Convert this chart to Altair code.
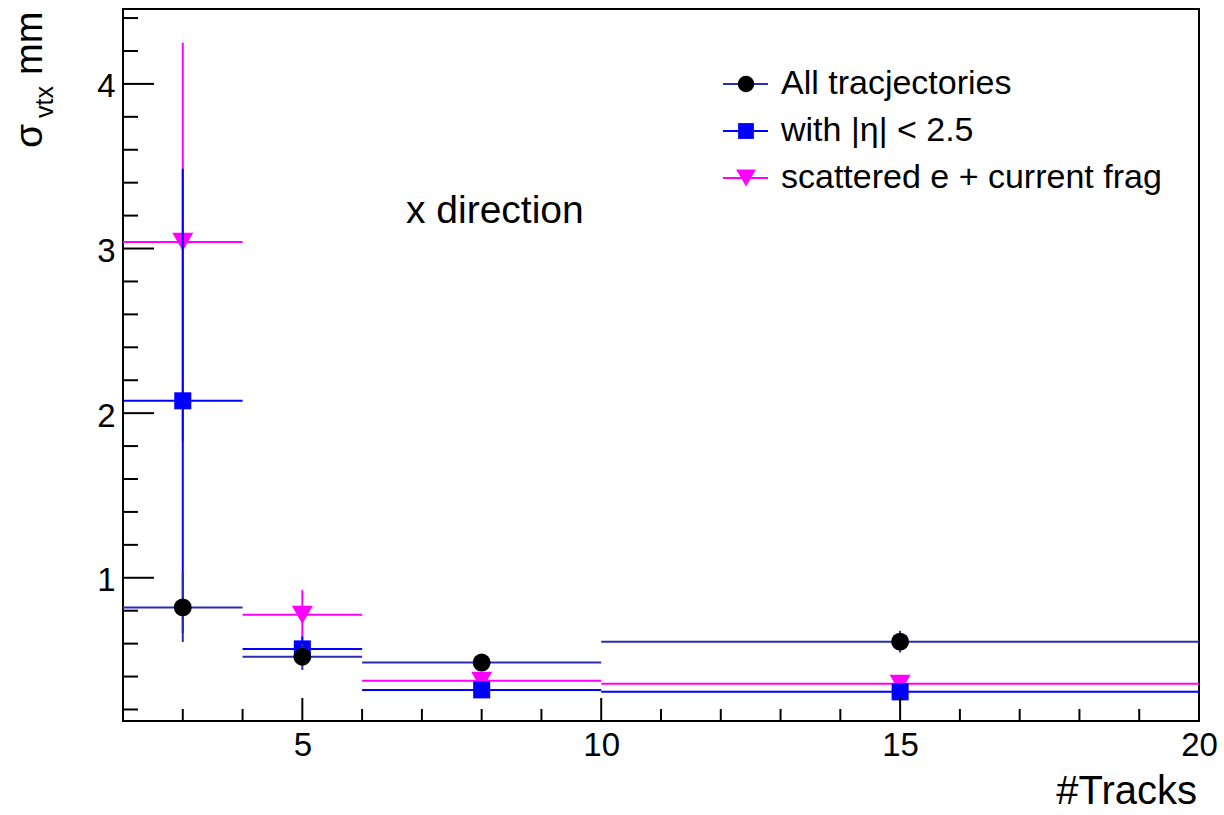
import altair as alt
import numpy as np
import pandas as pd

# Track-multiplicity bins (centre, low edge, high edge)
bin_center = [3, 5, 8, 15]
bin_low = [2, 4, 6, 10]
bin_high = [4, 6, 10, 20]

# Vertex resolution (mm) and its uncertainty per bin
all_sigma = [0.82, 0.52, 0.485, 0.612]
all_err = [0.21, 0.08, 0.02, 0.066]
eta_sigma = [2.075, 0.568, 0.319, 0.307]
eta_err = [1.41, 0.075, 0.02, 0.02]
scat_sigma = [3.04, 0.775, 0.374, 0.356]
scat_err = [1.21, 0.15, 0.02, 0.02]

series_labels = ["All tracjectories", "with |η| < 2.5", "scattered e + current frag"]

# Axis tick labels
x_labels = [5, 10, 15, 20]
y_labels = [1, 2, 3, 4]

FONT = "Liberation Sans"
W, H = 1076, 712
X_DOM = [2, 20]
Y_DOM = [0.13, 4.455]

xs = alt.Scale(domain=X_DOM, nice=False, zero=False)
ys = alt.Scale(domain=Y_DOM, nice=False, zero=False)

# Shared axis definitions (labels only; ticks are drawn inward separately)
x_axis = alt.Axis(values=x_labels, title=None, grid=False, ticks=False, domain=False,
                  labelFont=FONT, labelFontSize=33, labelColor="black", labelPadding=8,
                  labelFlush=False, labelOverlap=False)
y_axis = alt.Axis(values=y_labels, title=None, grid=False, ticks=False, domain=False,
                  labelFont=FONT, labelFontSize=33, labelColor="black", labelPadding=8,
                  labelOffset=3, labelFlush=False, labelOverlap=False)


def X(field):
    return alt.X(field, scale=xs, axis=x_axis, title=None)


def Y(field):
    return alt.Y(field, scale=ys, axis=y_axis, title=None)


def frame(vals, errs):
    return pd.DataFrame({
        "xc": bin_center, "lo": bin_low, "hi": bin_high,
        "y": vals, "ylo": np.array(vals) - np.array(errs),
        "yhi": np.array(vals) + np.array(errs),
    })


def series_layers(vals, errs, line_color, marker_color, shape, size):
    d = frame(vals, errs)
    base = alt.Chart(d)
    hbar = base.mark_rule(color=line_color, strokeWidth=2).encode(
        x=X("lo:Q"), x2="hi:Q", y=Y("y:Q"))
    vbar = base.mark_rule(color=line_color, strokeWidth=2).encode(
        x=X("xc:Q"), y=Y("ylo:Q"), y2="yhi:Q")
    pts = base.mark_point(shape=shape, filled=True, color=marker_color,
                          size=size, opacity=1).encode(
        x=X("xc:Q"), y=Y("y:Q"))
    return [hbar, vbar, pts]


NAVY = "#2b2bb3"
BLUE = "#0000ff"
MAGENTA = "#ff00ff"

layers = []
layers += series_layers(scat_sigma, scat_err, MAGENTA, MAGENTA, "triangle-down", 440)
layers += series_layers(eta_sigma, eta_err, BLUE, BLUE, "square", 290)
layers += series_layers(all_sigma, all_err, NAVY, "black", "circle", 320)

# Inward tick marks
x_major = [5, 10, 15]
x_minor = [v for v in range(3, 20) if v not in x_major]
y_major = [1, 2, 3, 4]
y_minor = [round(v, 1) for v in np.arange(0.2, 4.45, 0.2) if abs(v - round(v)) > 1e-6]


def xticks(vals, length):
    return alt.Chart(pd.DataFrame({"t": vals})).mark_rule(color="black", strokeWidth=2).encode(
        x=X("t:Q"), y=alt.value(H), y2=alt.value(H - length))


def yticks(vals, length):
    return alt.Chart(pd.DataFrame({"t": vals})).mark_rule(color="black", strokeWidth=2).encode(
        y=Y("t:Q"), x=alt.value(0), x2=alt.value(length))


layers += [xticks(x_major, 23), xticks(x_minor, 12), yticks(y_major, 31), yticks(y_minor, 15)]

one = pd.DataFrame({"a": [0]})


def label(text, x, y, size, angle=0, align="left", baseline="alphabetic"):
    kw = dict(text=text, font=FONT, fontSize=size, color="black", align=align, baseline=baseline)
    if angle:
        kw["angle"] = angle
    return alt.Chart(one).mark_text(**kw).encode(x=alt.value(x), y=alt.value(y))


# Axis titles
layers.append(label("#Tracks", W - 2, H + 83, 40, align="right"))
layers.append(label("σ", -81, 139, 39, angle=270))
layers.append(label("vtx", -70, 109, 25, angle=270))
layers.append(label("mm", -81, 66, 38, angle=270))

# Annotation
layers.append(label("x direction", 283, 214, 39))

# Legend
legend_items = [
    (series_labels[0], NAVY, "black", "circle", 270, 75),
    (series_labels[1], BLUE, BLUE, "square", 250, 122),
    (series_labels[2], MAGENTA, MAGENTA, "triangle-down", 390, 169),
]
for text, lcol, mcol, shp, sz, yy in legend_items:
    layers.append(alt.Chart(one).mark_rule(color=lcol, strokeWidth=2).encode(
        x=alt.value(600), x2=alt.value(645), y=alt.value(yy)))
    layers.append(alt.Chart(one).mark_point(shape=shp, filled=True, color=mcol, size=sz, opacity=1).encode(
        x=alt.value(623), y=alt.value(yy)))
    layers.append(label(text, 658, yy, 34, baseline="middle"))

chart = alt.layer(*layers).properties(
    width=W, height=H,
    autosize=alt.AutoSizeParams(type="none"),
    padding={"left": 123, "top": 9, "right": 25, "bottom": 94},
    background="white",
).configure_view(stroke="black", strokeWidth=2)

chart.save("out.html", embed_options={"renderer": "svg", "actions": False})
